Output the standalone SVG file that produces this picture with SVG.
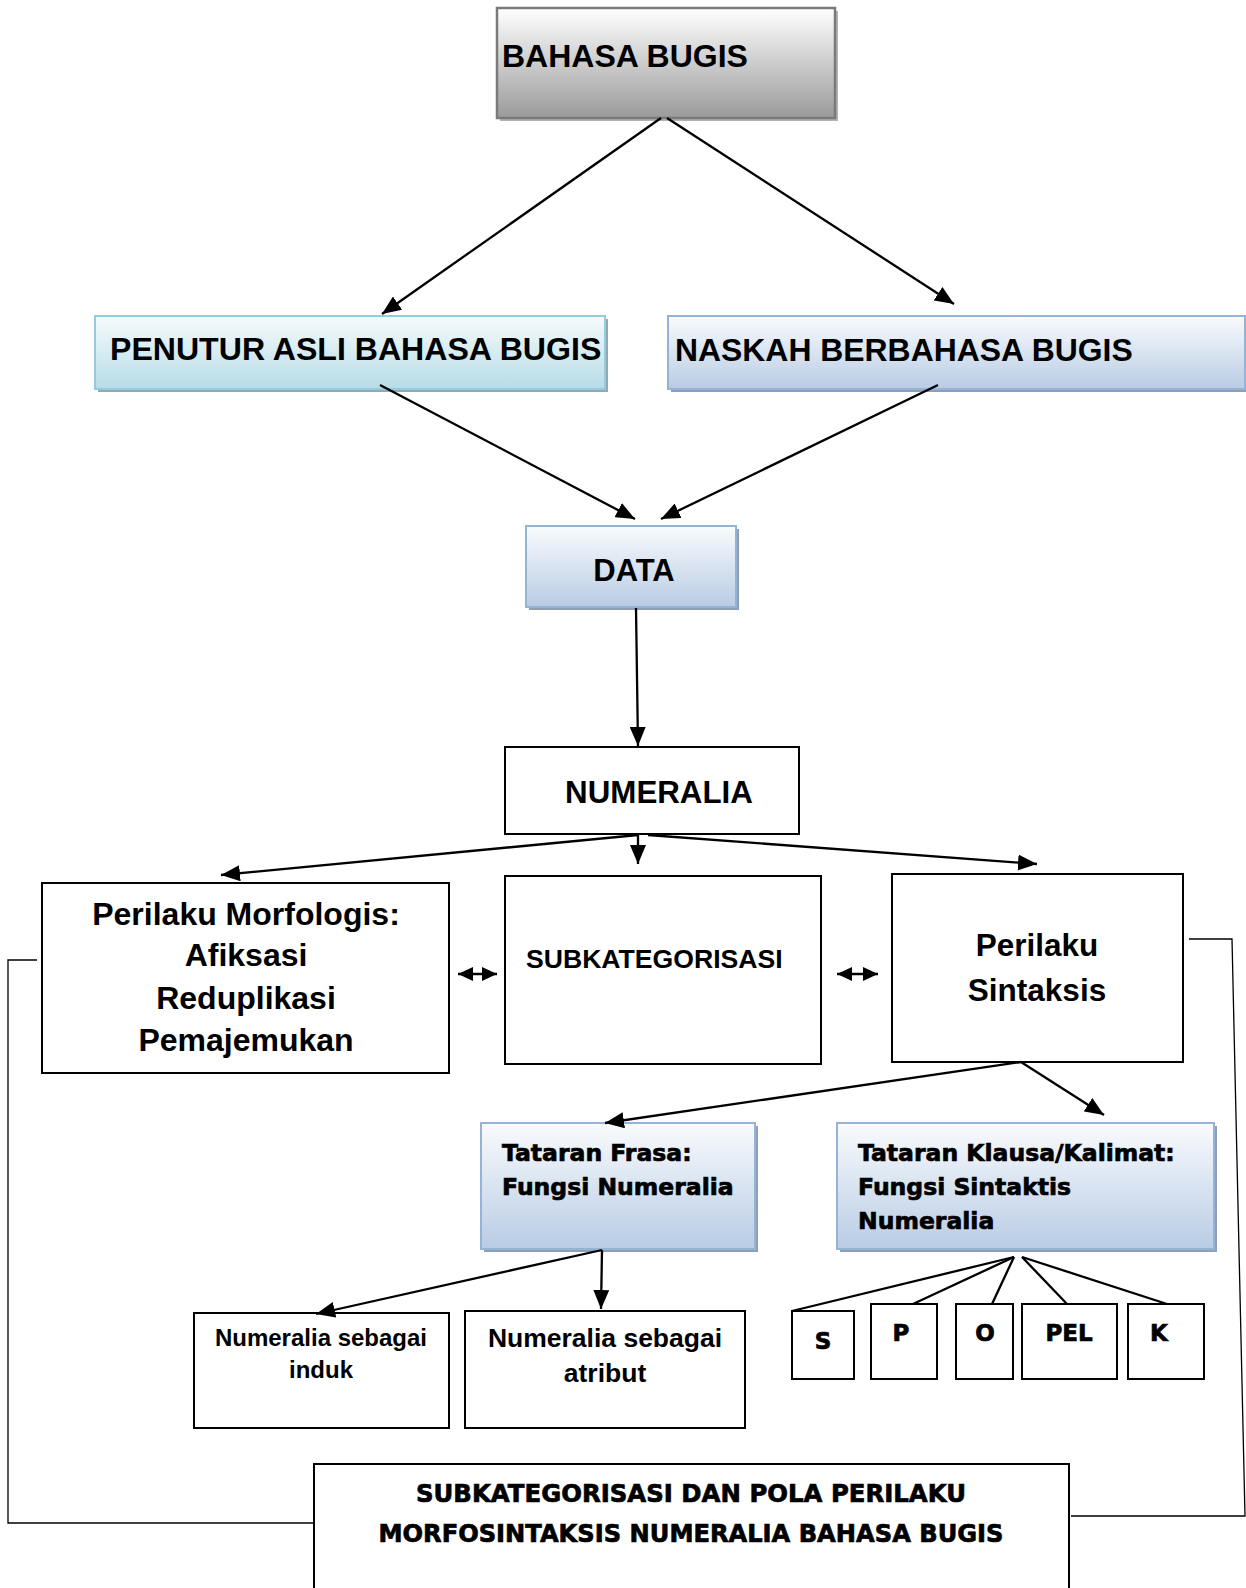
<svg xmlns="http://www.w3.org/2000/svg" width="1246" height="1588" viewBox="0 0 1246 1588">
<defs>
<linearGradient id="gGrey" x1="0" y1="0" x2="0" y2="1"><stop offset="0" stop-color="#ffffff"/><stop offset="1" stop-color="#9a9a9a"/></linearGradient>
<linearGradient id="gAqua" x1="0" y1="0" x2="0" y2="1"><stop offset="0" stop-color="#f6fbfc"/><stop offset="1" stop-color="#b7dce7"/></linearGradient>
<linearGradient id="gBlue" x1="0" y1="0" x2="0" y2="1"><stop offset="0" stop-color="#f9fbfd"/><stop offset="1" stop-color="#b9cce4"/></linearGradient>
<marker id="ahS" viewBox="0 0 10 10" refX="10" refY="5" markerWidth="19" markerHeight="16" markerUnits="userSpaceOnUse" orient="auto-start-reverse" preserveAspectRatio="none">
<path d="M0,0 L10,5 L0,10 z" fill="#000"/>
</marker>
<marker id="ahD" viewBox="0 0 10 10" refX="10" refY="5" markerWidth="15" markerHeight="14" markerUnits="userSpaceOnUse" orient="auto-start-reverse" preserveAspectRatio="none">
<path d="M0,0 L10,5 L0,10 z" fill="#000"/>
</marker>
</defs>
<style>
.t{font-family:"Liberation Sans",Arial,sans-serif;font-weight:bold;fill:#000}
.h{font-family:"DejaVu Sans",sans-serif;font-weight:bold;fill:#000;stroke:#000;stroke-width:0.7}
.box{fill:#fff;stroke:#000;stroke-width:2}
.c{fill:none;stroke:#000;stroke-width:2.3}
.br{fill:none;stroke:#000;stroke-width:1.3}
</style>

<g id="n-bahasa">
<rect x="500" y="11" width="338" height="110" fill="#b3b3b3"/>
<rect x="497" y="8" width="338" height="110" fill="url(#gGrey)" stroke="#7a7a7a" stroke-width="2.5"/>
<text class="t" x="502" y="67" font-size="32">BAHASA BUGIS</text>
</g>

<g id="n-penutur">
<rect x="98" y="319" width="510" height="73" fill="#93a9b1"/>
<rect x="95" y="316" width="510" height="73" fill="url(#gAqua)" stroke="#93cddd" stroke-width="2"/>
<text class="t" x="110" y="360" font-size="32.1">PENUTUR ASLI BAHASA BUGIS</text>
</g>

<g id="n-naskah">
<rect x="671" y="319" width="578" height="73" fill="#8e9fb6"/>
<rect x="668" y="316" width="577" height="73" fill="url(#gBlue)" stroke="#95b3d7" stroke-width="2"/>
<text class="t" x="675" y="361" font-size="31.9">NASKAH BERBAHASA BUGIS</text>
</g>

<g id="n-data">
<rect x="529" y="529" width="210" height="81" fill="#8e9fb6"/>
<rect x="526" y="526" width="210" height="81" fill="url(#gBlue)" stroke="#95b3d7" stroke-width="2"/>
<text class="t" x="634" y="581" font-size="31" text-anchor="middle">DATA</text>
</g>

<g id="n-numeralia">
<rect class="box" x="505" y="747" width="294" height="87"/>
<text class="t" x="659" y="803" font-size="31.3" text-anchor="middle">NUMERALIA</text>
</g>

<g id="n-morfologis">
<rect class="box" x="42" y="883" width="407" height="190"/>
<text class="t" x="246" y="925" font-size="32" text-anchor="middle">Perilaku Morfologis:</text>
<text class="t" x="246" y="966" font-size="32" text-anchor="middle">Afiksasi</text>
<text class="t" x="246" y="1009" font-size="32" text-anchor="middle">Reduplikasi</text>
<text class="t" x="246" y="1051" font-size="32" text-anchor="middle">Pemajemukan</text>
</g>

<g id="n-subkategorisasi">
<rect class="box" x="505" y="876" width="316" height="188"/>
<text class="t" x="526" y="968" font-size="26.6">SUBKATEGORISASI</text>
</g>

<g id="n-sintaksis">
<rect class="box" x="892" y="874" width="291" height="188"/>
<text class="t" x="1037" y="956" font-size="31.5" text-anchor="middle">Perilaku</text>
<text class="t" x="1037" y="1001" font-size="31.5" text-anchor="middle">Sintaksis</text>
</g>

<g id="n-frasa">
<rect x="484" y="1126" width="274" height="126" fill="#8e9fb6"/>
<rect x="481" y="1123" width="274" height="126" fill="url(#gBlue)" stroke="#95b3d7" stroke-width="2"/>
<text class="h" x="502" y="1161" font-size="23.5">Tataran Frasa:</text>
<text class="h" x="502" y="1195" font-size="23.5">Fungsi Numeralia</text>
</g>

<g id="n-klausa">
<rect x="840" y="1126" width="377" height="126" fill="#8e9fb6"/>
<rect x="837" y="1123" width="377" height="126" fill="url(#gBlue)" stroke="#95b3d7" stroke-width="2"/>
<text class="h" x="858" y="1161" font-size="23.5">Tataran Klausa/Kalimat:</text>
<text class="h" x="858" y="1195" font-size="23.5">Fungsi Sintaktis</text>
<text class="h" x="858" y="1229" font-size="23.5">Numeralia</text>
</g>

<g id="n-induk">
<rect class="box" x="194" y="1313" width="255" height="115"/>
<text class="t" x="321" y="1346" font-size="24" text-anchor="middle">Numeralia sebagai</text>
<text class="t" x="321" y="1378" font-size="24" text-anchor="middle">induk</text>
</g>

<g id="n-atribut">
<rect class="box" x="465" y="1311" width="280" height="117"/>
<text class="t" x="605" y="1347" font-size="26.5" text-anchor="middle">Numeralia sebagai</text>
<text class="t" x="605" y="1382" font-size="26.5" text-anchor="middle">atribut</text>
</g>

<g id="n-s"><rect class="box" x="792" y="1311" width="62" height="68"/><text class="h" x="823" y="1349" font-size="23" text-anchor="middle">S</text></g>
<g id="n-p"><rect class="box" x="871" y="1304" width="66" height="75"/><text class="h" x="901" y="1341" font-size="23" text-anchor="middle">P</text></g>
<g id="n-o"><rect class="box" x="956" y="1304" width="57" height="75"/><text class="h" x="985" y="1341" font-size="23" text-anchor="middle">O</text></g>
<g id="n-pel"><rect class="box" x="1022" y="1304" width="95" height="75"/><text class="h" x="1069" y="1341" font-size="23" text-anchor="middle">PEL</text></g>
<g id="n-k"><rect class="box" x="1128" y="1304" width="76" height="75"/><text class="h" x="1159" y="1341" font-size="23" text-anchor="middle">K</text></g>

<g id="n-judul">
<rect class="box" x="314" y="1464" width="755" height="140"/>
<text class="h" x="691" y="1502" font-size="24.5" text-anchor="middle" textLength="550" lengthAdjust="spacingAndGlyphs">SUBKATEGORISASI DAN POLA PERILAKU</text>
<text class="h" x="691" y="1542" font-size="24.5" text-anchor="middle" textLength="625" lengthAdjust="spacingAndGlyphs">MORFOSINTAKSIS NUMERALIA BAHASA BUGIS</text>
</g>

<g id="connectors">
<line class="c" x1="661" y1="118" x2="382" y2="314" marker-end="url(#ahS)"/>
<line class="c" x1="667" y1="118" x2="954" y2="304" marker-end="url(#ahS)"/>
<line class="c" x1="380" y1="385" x2="635" y2="519" marker-end="url(#ahS)"/>
<line class="c" x1="938" y1="385" x2="661" y2="519" marker-end="url(#ahS)"/>
<line class="c" x1="636" y1="608" x2="638" y2="746" marker-end="url(#ahS)"/>
<line class="c" x1="638" y1="835" x2="221" y2="875" marker-end="url(#ahS)"/>
<line class="c" x1="638" y1="835" x2="638" y2="864" marker-end="url(#ahS)"/>
<line class="c" x1="648" y1="835" x2="1037" y2="864" marker-end="url(#ahS)"/>
<line class="c" x1="1021" y1="1062" x2="605" y2="1123" marker-end="url(#ahS)"/>
<line class="c" x1="1021" y1="1062" x2="1104" y2="1115" marker-end="url(#ahS)"/>
<line class="c" x1="602" y1="1250" x2="316" y2="1314" marker-end="url(#ahS)"/>
<line class="c" x1="602" y1="1250" x2="601" y2="1309" marker-end="url(#ahS)"/>
<line class="c" x1="458" y1="974" x2="497" y2="974" marker-start="url(#ahD)" marker-end="url(#ahD)"/>
<line class="c" x1="837" y1="974" x2="878" y2="974" marker-start="url(#ahD)" marker-end="url(#ahD)"/>
<line class="c" x1="1014" y1="1257" x2="792" y2="1311"/>
<line class="c" x1="1014" y1="1257" x2="913" y2="1304"/>
<line class="c" x1="1014" y1="1257" x2="992" y2="1304"/>
<line class="c" x1="1022" y1="1257" x2="1067" y2="1304"/>
<line class="c" x1="1022" y1="1257" x2="1167" y2="1304"/>
<polyline class="br" points="37,960 8,960 8,1523 314,1523"/>
<polyline class="br" points="1189,939 1232,939 1245,1516 1071,1516"/>
</g>
</svg>
